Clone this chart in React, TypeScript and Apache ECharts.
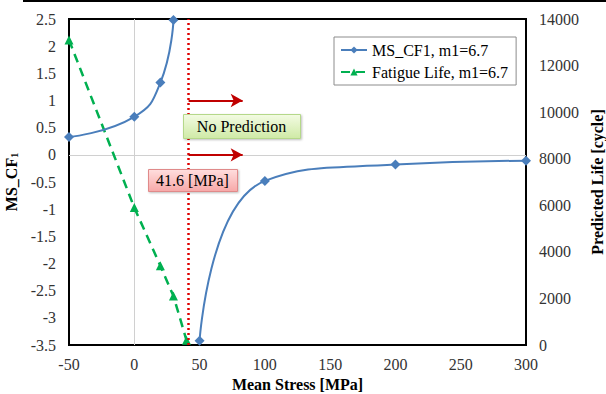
import React, { useEffect, useRef } from "react";
import * as echarts from "echarts";

const FONT = "Liberation Serif";

const xTicks = { min: -50, max: 300, interval: 50 };
const leftTicks = { min: -3.5, max: 2.5, interval: 0.5 };
const rightTicks = { min: 0, max: 14000, interval: 2000 };

const msName = "MS_CF1, m1=6.7";
const lifeName = "Fatigue Life, m1=6.7";

// MS_CF1 curve (left axis), split at the asymptote
const msStressA = [-50, 0, 20, 30];
const msValueA = [0.33, 0.7, 1.33, 2.48];
const msStressB = [50, 100, 200, 300];
const msValueB = [-3.42, -0.48, -0.18, -0.11];

// Fatigue life (right axis)
const lifeStress = [-50, 0, 20, 30, 40];
const lifeValue = [13100, 5900, 3400, 2100, 200];

const limitStress = 41.6;
const arrowLevels = [1, 0];
const arrowEnd = 83;

const BLUE = "#4A7EBB";
const GREEN = "#00B050";
const RED = "#C00000";

export default function App() {
  const ref = useRef<HTMLDivElement>(null);
  useEffect(() => {
    if (!ref.current) return;
    const chart = echarts.init(ref.current, undefined, { renderer: "svg" });
    const nameStyle = { fontFamily: FONT, fontSize: 16, fontWeight: "bold" as const, color: "#000" };
    const axisLine = { show: true, onZero: false, lineStyle: { color: "#000", width: 2 } };
    const shadow = { shadowBlur: 2, shadowOffsetX: 1, shadowOffsetY: 1, shadowColor: "rgba(0,0,0,0.25)" };
    chart.setOption({
      animation: false,
      backgroundColor: "#fff",
      textStyle: { fontFamily: FONT },
      grid: {
        left: 69, right: 80, top: 19, bottom: 49,
        show: true, borderColor: "#000", borderWidth: 2,
        containLabel: false, outerBoundsMode: "none",
      },
      legend: {
        left: 334, top: 37, orient: "vertical",
        borderColor: "#8c8c8c", borderWidth: 1, padding: [5, 8, 5, 6],
        itemGap: 6, itemWidth: 26, itemHeight: 9,
        textStyle: { fontFamily: FONT, fontSize: 16, color: "#000" },
        data: [msName, lifeName],
      },
      xAxis: {
        type: "value", ...xTicks,
        name: "Mean Stress [MPa]", nameLocation: "middle", nameGap: 31, nameTextStyle: nameStyle,
        axisLine, axisTick: { show: false }, splitLine: { show: false },
        axisLabel: { show: true, fontFamily: FONT, fontSize: 16, color: "#333", margin: 11 },
      },
      yAxis: [
        {
          type: "value", ...leftTicks,
          name: "{a|MS_CF}{b|1}", nameLocation: "middle", nameRotate: 90, nameGap: 45,
          nameTextStyle: {
            ...nameStyle,
            rich: {
              a: { fontFamily: FONT, fontSize: 16, fontWeight: "bold", color: "#000" },
              b: { fontFamily: FONT, fontSize: 10, fontWeight: "bold", color: "#000", padding: [6, 0, 0, 0] },
            },
          },
          axisLine, axisTick: { show: false }, splitLine: { show: false },
          axisLabel: { show: true, fontFamily: FONT, fontSize: 16, color: "#333", margin: 13 },
        },
        {
          type: "value", ...rightTicks, position: "right",
          name: "Predicted Life [cycle]", nameLocation: "middle", nameRotate: 90, nameGap: 56, nameTextStyle: nameStyle,
          axisLine, axisTick: { show: false }, splitLine: { show: false },
          axisLabel: {
            show: true, fontFamily: FONT, fontSize: 16, color: "#333", margin: 13,
            formatter: (v: number) => String(v),
          },
        },
      ],
      series: [
        {
          name: "refs", type: "line", yAxisIndex: 0, data: [], silent: true,
          markLine: {
            silent: true, symbol: ["none", "none"], label: { show: false }, z: 1,
            lineStyle: { color: "#d0d0d0", width: 1, type: "solid" },
            data: [{ xAxis: 0 }, { yAxis: 0 }],
          },
        },
        {
          name: msName, type: "line", yAxisIndex: 0, smooth: 0.5, symbol: "diamond", symbolSize: 10,
          itemStyle: { color: BLUE }, lineStyle: { color: BLUE, width: 2 },
          data: msStressA.map((x, i) => [x, msValueA[i]]), z: 4,
        },
        {
          name: msName, type: "line", yAxisIndex: 0, smooth: 0.5, symbol: "diamond", symbolSize: 10,
          itemStyle: { color: BLUE }, lineStyle: { color: BLUE, width: 2 },
          data: msStressB.map((x, i) => [x, msValueB[i]]), z: 4,
        },
        {
          name: lifeName, type: "line", yAxisIndex: 1, symbol: "triangle", symbolSize: 9,
          itemStyle: { color: GREEN }, lineStyle: { color: GREEN, width: 2.5, type: [9, 6] },
          data: lifeStress.map((x, i) => [x, lifeValue[i]]), z: 3,
        },
        {
          name: "limit", type: "line", yAxisIndex: 0, data: [], silent: true,
          markLine: {
            silent: true, symbol: ["none", "none"], label: { show: false }, z: 5,
            data: [
              { xAxis: limitStress, lineStyle: { color: "#E00000", width: 2.5, type: [2, 3] } },
              ...arrowLevels.map((lv) => [
                { coord: [limitStress, lv], symbol: "none", lineStyle: { color: RED, width: 2, type: "solid" } },
                { coord: [arrowEnd, lv], symbol: "arrow", symbolSize: [10, 12] },
              ]),
            ],
          },
        },
      ],
      graphic: [
        {
          type: "rect", left: 183, top: 114, z: 100,
          shape: { width: 117, height: 24 },
          style: {
            fill: new echarts.graphic.LinearGradient(0, 0, 0, 1, [
              { offset: 0, color: "#f3fbe3" }, { offset: 1, color: "#cfeaa6" },
            ]),
            stroke: "#b5d88a", lineWidth: 1, ...shadow,
          },
        },
        {
          type: "text", x: 241.5, y: 126, z: 101,
          style: { text: "No Prediction", fontFamily: FONT, fontSize: 16, fill: "#000", align: "center", verticalAlign: "middle" },
        },
        {
          type: "rect", left: 148, top: 169, z: 100,
          shape: { width: 89, height: 22 },
          style: {
            fill: new echarts.graphic.LinearGradient(0, 0, 0, 1, [
              { offset: 0, color: "#ffdede" }, { offset: 1, color: "#f7a8a8" },
            ]),
            stroke: "#e08a8a", lineWidth: 1, ...shadow,
          },
        },
        {
          type: "text", x: 192.5, y: 180, z: 101,
          style: { text: "41.6 [MPa]", fontFamily: FONT, fontSize: 16, fill: "#000", align: "center", verticalAlign: "middle" },
        },
      ],
    });
    return () => chart.dispose();
  }, []);
  return (
    <div style={{ position: "fixed", left: 0, top: 0, width: 606, height: 394, background: "#fff" }}>
      <div ref={ref} style={{ position: "absolute", left: 0, top: 0, width: 606, height: 394 }} />
      <div
        style={{ position: "absolute", left: 23, top: 0, width: 583, height: 2, background: "#000", zIndex: 5 }}
      />
    </div>
  );
}
